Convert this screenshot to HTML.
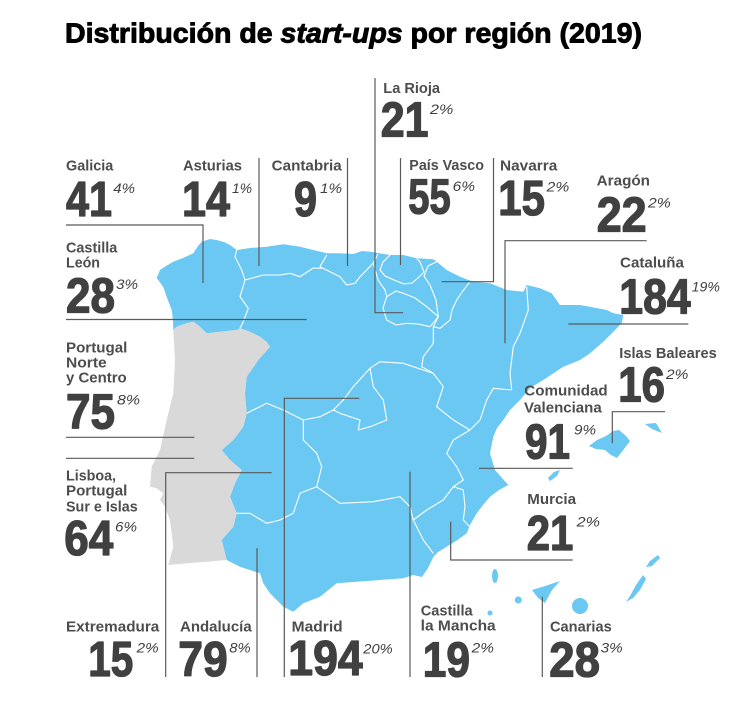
<!DOCTYPE html>
<html>
<head>
<meta charset="utf-8">
<style>
html,body{margin:0;padding:0;background:#fff;}
svg{display:block;}
.t{font-family:"Liberation Sans",Arial,sans-serif;}
.lb{font-family:"Liberation Sans",Arial,sans-serif;font-weight:bold;font-size:15px;fill:#4d4d4d;}
.nm{font-family:"Liberation Sans",Arial,sans-serif;font-weight:bold;font-size:49px;fill:#404040;stroke:#404040;stroke-width:1.3;stroke-linejoin:round;}
.pc{font-family:"Liberation Sans",Arial,sans-serif;font-style:italic;font-size:13.5px;fill:#404040;}
.ln{stroke:#5a5a5a;stroke-width:1.2;fill:none;}
.bd{stroke:#ffffff;stroke-width:1.1;fill:none;stroke-linejoin:round;}
</style>
</head>
<body>
<svg width="754" height="718" viewBox="0 0 754 718" xmlns="http://www.w3.org/2000/svg">
<rect width="754" height="718" fill="#fff"/>

<!-- Title -->
<text class="t" x="65" y="42.7" font-size="28" font-weight="bold" fill="#000" stroke="#000" stroke-width="0.9" stroke-linejoin="round" textLength="577" lengthAdjust="spacingAndGlyphs">Distribución de <tspan font-style="italic">start-ups</tspan> por región (2019)</text>

<!-- Spain mainland -->
<path fill="#6ac8f2" d="M173.3,330 L173,320 L171.7,310 L166.7,297 L163.3,287 L156.7,278 L160,270 L166,266 L173.3,261.7 L183,258 L193.3,253.3 L198,246 L201.7,241.7 L210,239 L216.7,240 L224,242 L230,245 L236.7,250 L250,248 L266.7,246.7 L283.3,244.3 L300,246.7 L313.3,250 L326.7,253.3 L340,253.3 L353.3,254 L362,251 L370,251.7 L380,253.3 L390,255 L403.3,255 L416.7,258.3 L433.3,259.3 L436.7,261.7 L446.7,270 L460,276.7 L473.3,281.7 L490,283.3 L506.7,290 L523.3,291.7 L526.7,285 L540,288.3 L551.7,293.3 L560,305 L580,305 L590,306.7 L606.7,310 L613.3,313.3 L623.3,315 L621.7,323.3 L613.3,331.7 L603.3,341.7 L590,353.3 L580,360 L563.3,366.7 L543.3,380 L530,388 L520,400 L510,410 L503.3,420 L497,428 L493.3,436.7 L490,453.3 L495,470 L508.3,485 L499,490 L490,496.7 L483,505 L476.7,513.3 L470,525 L466.7,533.3 L456,541 L446.7,546.7 L438,552 L433.3,557 L428,568 L422,577 L413.3,575 L403.3,578.3 L380,580 L356.7,581.7 L336.7,583.3 L320,596.7 L303.3,603.3 L293.3,611.7 L283.3,606.7 L270,593.3 L263.3,583.3 L260,573.3 L240,566.7 L226.7,560 L221.7,540 L233.3,526.7 L236.7,513.3 L230,496.7 L235,483.3 L241.7,470 L230,460 L221.7,450 L233.3,440 L243.3,426.7 L246.7,413.3 L245,393.3 L246.7,376.7 L258.3,360 L270,346.7 L266.7,342 L260,336.7 L250,331.7 L240,328.3 L236.7,330 L220,331.7 L206.7,333.3 L200,326.7 L193.3,321.7 L186.7,323.3 L176.7,326.7 Z"/>

<!-- Portugal -->
<path fill="#d9d9d9" d="M176.7,326.7 L186.7,323.3 L193.3,321.7 L200,326.7 L206.7,333.3 L220,331.7 L236.7,330 L240,328.3 L250,331.7 L260,336.7 L266.7,342 L270,346.7 L258.3,360 L246.7,376.7 L245,393.3 L246.7,413.3 L243.3,426.7 L233.3,440 L221.7,450 L230,460 L241.7,470 L235,483.3 L230,496.7 L236.7,513.3 L233.3,526.7 L221.7,540 L226.7,560 L206.7,561.7 L186.7,563.3 L168.3,565 L173.3,546.7 L170,520 L165,506.7 L160,500 L163.3,493.3 L156.7,488.3 L150,486.7 L151.7,466.7 L160,450 L166.7,420 L173.3,393.3 L175,360 L173.3,330 Z"/>

<!-- internal borders -->
<polyline class="bd" points="236.7,250 235,256.7 241.7,270 245,280 240,296.7 248.3,308.3 243.3,321.7 240,328.3"/>
<polyline class="bd" points="245,280 263.3,275 280,275 290,273.3 300,276.7 313.3,268 321.7,268.3"/>
<polyline class="bd" points="326.7,255 320,266.7 330,271.7 340,276.7 346.7,285 355,283.3 360,276.7 368.3,268.3 373.3,263 378,254"/>
<polyline class="bd" points="373.3,263 378,280 385,290 386.7,296.7"/>
<polyline class="bd" points="390,255 383,262 380,270 385,276 394,280 404,284 412,283 418,278 424,272 420,262 416.7,258.3"/>
<polyline class="bd" points="436.7,261.7 428,266 424,276 430,285 436,300 438.3,316.7"/>
<path class="bd" d="M386.7,296.7 L396,291 L403.3,293.3 L415,298 L426.7,306.7 L438.3,316.7 L430,326.7 L418,324 L406.7,323.3 L396,325 L386.7,320 L383,308 Z"/>
<polyline class="bd" points="470,281.7 462,292 456.7,300 452,310 450,320 440,328.3 433.3,326.7 438.3,316.7"/>
<polyline class="bd" points="433.3,326.7 433.3,343.3 423.3,356.7 421.7,366.7 433.3,373.3 443.3,386.7 436.7,406.7 453.3,420 470,430"/>
<polyline class="bd" points="526.7,286.7 528.3,310 520,333.3 513.3,346.7 510,373.3 511.7,390"/>
<polyline class="bd" points="511.7,390 493.3,388.3 486.7,400 480,420 470,430"/>
<polyline class="bd" points="470,430 453.3,440 446.7,453.3 456.7,466.7 463.3,480 453.3,486.7"/>
<polyline class="bd" points="453.3,486.7 463.3,490 465,506.7 463.3,520 470,527"/>
<polyline class="bd" points="453.3,486.7 443.3,500 426.7,510 413.3,520 423.3,540 433.3,553.3"/>
<polyline class="bd" points="316.7,486.7 340,503.3 373.3,501.7 400,496.7 410,506.7 413.3,520"/>
<polyline class="bd" points="433.3,373.3 423.3,370 403.3,363.3 380,361.7 370,368.3 353.3,386.7 343.3,400 333.3,410 320,416.7 303.3,420 283.3,410 266.7,403.3 246.7,413.3"/>
<polyline class="bd" points="370,368.3 373.3,386.7 383.3,400 386.7,420 370,426.7 358.3,430 360,420 340,413.3 333.3,410"/>
<polyline class="bd" points="303.3,420 303.3,440 316.7,453.3 321.7,466.7 316.7,486.7"/>
<polyline class="bd" points="316.7,486.7 300,493.3 293.3,513.3 280,520 266.7,523.3 250,513.3 236.7,513.3"/>

<!-- Balearic islands -->
<path fill="#6ac8f2" d="M589,446 L597,440 L606,436 L613,431 L619,430 L626,436 L630,441 L624,449 L617,458 L611,455 L605,450 L596,449 Z"/>
<path fill="#6ac8f2" d="M645,424 L656,423 L662,433 L652,429 Z"/>
<path fill="#6ac8f2" d="M548,478 L554,472 L560,470 L557,476 L550,481 Z"/>

<!-- Canary islands -->
<ellipse cx="495" cy="576" rx="3" ry="7" fill="#6ac8f2"/>
<path fill="#6ac8f2" d="M532,590 L545,586 L560,581 L552,590 L545,603 L538,598 Z"/>
<circle cx="518.3" cy="600" r="3.5" fill="#6ac8f2"/>
<circle cx="580" cy="606" r="8" fill="#6ac8f2"/>
<circle cx="490" cy="613" r="2.5" fill="#6ac8f2"/>
<path fill="#6ac8f2" d="M643,575 L646,579 L640,590 L633,598 L626,602 L630,596 L636,585 Z"/>
<path fill="#6ac8f2" d="M658,555 L660,558 L652,566 L646,567 L650,561 Z"/>

<!-- Leader lines -->
<path class="ln" d="M66,225 H203 V283"/>
<path class="ln" d="M259,158 V266"/>
<path class="ln" d="M347.5,158 V266"/>
<path class="ln" d="M375,78 V312.7 H403"/>
<path class="ln" d="M400.5,158 V265"/>
<path class="ln" d="M493.5,158 V281.7 H441.7"/>
<path class="ln" d="M646.7,240.7 H505 V343.3"/>
<path class="ln" d="M66,319.5 H306.7"/>
<path class="ln" d="M688.3,324 H568.3"/>
<path class="ln" d="M665,411.7 H612.3 V443.3"/>
<path class="ln" d="M66,437.3 H194.3"/>
<path class="ln" d="M66,458.3 H194.3"/>
<path class="ln" d="M572.7,468.3 H479"/>
<path class="ln" d="M572.7,560 H450.7 V521.7"/>
<path class="ln" d="M165.7,677 V472.7 H271.7"/>
<path class="ln" d="M257,677 V548.3"/>
<path class="ln" d="M284.3,677 V398.3 H359.3"/>
<path class="ln" d="M410,677 V471.7"/>
<path class="ln" d="M542.3,677 V596.7"/>

<!-- Galicia -->
<text class="lb" x="66" y="170.7" textLength="47.3" lengthAdjust="spacingAndGlyphs">Galicia</text>
<text class="nm" x="66" y="216" textLength="46" lengthAdjust="spacingAndGlyphs">41</text>
<text class="pc" x="113.3" y="193" textLength="21.7" lengthAdjust="spacingAndGlyphs">4%</text>

<!-- Asturias -->
<text class="lb" x="183" y="170.7" textLength="59" lengthAdjust="spacingAndGlyphs">Asturias</text>
<text class="nm" x="182" y="216" textLength="48" lengthAdjust="spacingAndGlyphs">14</text>
<text class="pc" x="232" y="193" textLength="20" lengthAdjust="spacingAndGlyphs">1%</text>

<!-- Cantabria -->
<text class="lb" x="271.7" y="170.7" textLength="70" lengthAdjust="spacingAndGlyphs">Cantabria</text>
<text class="nm" x="294" y="216" textLength="23" lengthAdjust="spacingAndGlyphs">9</text>
<text class="pc" x="320" y="193" textLength="22" lengthAdjust="spacingAndGlyphs">1%</text>

<!-- La Rioja -->
<text class="lb" x="383.3" y="93" textLength="56.7" lengthAdjust="spacingAndGlyphs">La Rioja</text>
<text class="nm" x="380.7" y="136.5" textLength="47.8" lengthAdjust="spacingAndGlyphs">21</text>
<text class="pc" x="430" y="113.8" textLength="23.3" lengthAdjust="spacingAndGlyphs">2%</text>

<!-- País Vasco -->
<text class="lb" x="409.3" y="170" textLength="74.7" lengthAdjust="spacingAndGlyphs">País Vasco</text>
<text class="nm" x="408.3" y="213.3" textLength="42.4" lengthAdjust="spacingAndGlyphs">55</text>
<text class="pc" x="452.7" y="191" textLength="22.3" lengthAdjust="spacingAndGlyphs">6%</text>

<!-- Navarra -->
<text class="lb" x="500" y="170.7" textLength="57.3" lengthAdjust="spacingAndGlyphs">Navarra</text>
<text class="nm" x="498.3" y="215" textLength="46.7" lengthAdjust="spacingAndGlyphs">15</text>
<text class="pc" x="546.7" y="191.7" textLength="22.6" lengthAdjust="spacingAndGlyphs">2%</text>

<!-- Aragón -->
<text class="lb" x="596.7" y="185.7" textLength="53.3" lengthAdjust="spacingAndGlyphs">Aragón</text>
<text class="nm" x="596.7" y="231.7" textLength="50" lengthAdjust="spacingAndGlyphs">22</text>
<text class="pc" x="648" y="207.5" textLength="22.7" lengthAdjust="spacingAndGlyphs">2%</text>

<!-- Castilla León -->
<text class="lb" x="66" y="252.4" textLength="51.3" lengthAdjust="spacingAndGlyphs">Castilla</text>
<text class="lb" x="66" y="267.4" textLength="34" lengthAdjust="spacingAndGlyphs">León</text>
<text class="nm" x="66" y="312.7" textLength="49" lengthAdjust="spacingAndGlyphs">28</text>
<text class="pc" x="116" y="289" textLength="22" lengthAdjust="spacingAndGlyphs">3%</text>

<!-- Cataluña -->
<text class="lb" x="620" y="267.4" textLength="64" lengthAdjust="spacingAndGlyphs">Cataluña</text>
<text class="nm" x="619.3" y="313.3" textLength="71.4" lengthAdjust="spacingAndGlyphs">184</text>
<text class="pc" x="691.7" y="291.5" textLength="28.3" lengthAdjust="spacingAndGlyphs">19%</text>

<!-- Islas Baleares -->
<text class="lb" x="619.3" y="358" textLength="97.4" lengthAdjust="spacingAndGlyphs">Islas Baleares</text>
<text class="nm" x="618.3" y="401.7" textLength="46.7" lengthAdjust="spacingAndGlyphs">16</text>
<text class="pc" x="666" y="379" textLength="22.3" lengthAdjust="spacingAndGlyphs">2%</text>

<!-- Portugal Norte y Centro -->
<text class="lb" x="66" y="352.4" textLength="61.3" lengthAdjust="spacingAndGlyphs">Portugal</text>
<text class="lb" x="66" y="367.4" textLength="40.7" lengthAdjust="spacingAndGlyphs">Norte</text>
<text class="lb" x="66" y="382.4" textLength="60.7" lengthAdjust="spacingAndGlyphs">y Centro</text>
<text class="nm" x="66" y="428.3" textLength="49" lengthAdjust="spacingAndGlyphs">75</text>
<text class="pc" x="117" y="404.7" textLength="23" lengthAdjust="spacingAndGlyphs">8%</text>

<!-- Comunidad Valenciana -->
<text class="lb" x="524.3" y="395.7" textLength="83.4" lengthAdjust="spacingAndGlyphs">Comunidad</text>
<text class="lb" x="524" y="412.4" textLength="77.7" lengthAdjust="spacingAndGlyphs">Valenciana</text>
<text class="nm" x="525" y="458.3" textLength="45" lengthAdjust="spacingAndGlyphs">91</text>
<text class="pc" x="574" y="434.7" textLength="22" lengthAdjust="spacingAndGlyphs">9%</text>

<!-- Lisboa -->
<text class="lb" x="66" y="480.7" textLength="50" lengthAdjust="spacingAndGlyphs">Lisboa,</text>
<text class="lb" x="66" y="495.7" textLength="61.3" lengthAdjust="spacingAndGlyphs">Portugal</text>
<text class="lb" x="66" y="511.4" textLength="71.7" lengthAdjust="spacingAndGlyphs">Sur e Islas</text>
<text class="nm" x="64.3" y="555" textLength="49" lengthAdjust="spacingAndGlyphs">64</text>
<text class="pc" x="115" y="531.7" textLength="22" lengthAdjust="spacingAndGlyphs">6%</text>

<!-- Murcia -->
<text class="lb" x="527.3" y="504" textLength="48.7" lengthAdjust="spacingAndGlyphs">Murcia</text>
<text class="nm" x="526.7" y="550" textLength="46.6" lengthAdjust="spacingAndGlyphs">21</text>
<text class="pc" x="576.7" y="526.4" textLength="23.3" lengthAdjust="spacingAndGlyphs">2%</text>

<!-- Extremadura -->
<text class="lb" x="66" y="631.7" textLength="93.3" lengthAdjust="spacingAndGlyphs">Extremadura</text>
<text class="nm" x="88.3" y="676" textLength="45" lengthAdjust="spacingAndGlyphs">15</text>
<text class="pc" x="136.7" y="652.4" textLength="22" lengthAdjust="spacingAndGlyphs">2%</text>

<!-- Andalucía -->
<text class="lb" x="180" y="631.7" textLength="71.7" lengthAdjust="spacingAndGlyphs">Andalucía</text>
<text class="nm" x="178.3" y="676" textLength="49.4" lengthAdjust="spacingAndGlyphs">79</text>
<text class="pc" x="229.3" y="652.7" textLength="21.4" lengthAdjust="spacingAndGlyphs">8%</text>

<!-- Madrid -->
<text class="lb" x="291.7" y="631.7" textLength="51" lengthAdjust="spacingAndGlyphs">Madrid</text>
<text class="nm" x="288.3" y="675" textLength="74.4" lengthAdjust="spacingAndGlyphs">194</text>
<text class="pc" x="363.3" y="653.7" textLength="29.4" lengthAdjust="spacingAndGlyphs">20%</text>

<!-- Castilla la Mancha -->
<text class="lb" x="420.7" y="615.7" textLength="52" lengthAdjust="spacingAndGlyphs">Castilla</text>
<text class="lb" x="420.7" y="630.7" textLength="75" lengthAdjust="spacingAndGlyphs">la Mancha</text>
<text class="nm" x="422.7" y="676.7" textLength="47.3" lengthAdjust="spacingAndGlyphs">19</text>
<text class="pc" x="471.7" y="652.7" textLength="22.3" lengthAdjust="spacingAndGlyphs">2%</text>

<!-- Canarias -->
<text class="lb" x="550" y="631.4" textLength="61.7" lengthAdjust="spacingAndGlyphs">Canarias</text>
<text class="nm" x="549.3" y="676.5" textLength="50.7" lengthAdjust="spacingAndGlyphs">28</text>
<text class="pc" x="600.7" y="652.7" textLength="22" lengthAdjust="spacingAndGlyphs">3%</text>
</svg>
</body>
</html>
